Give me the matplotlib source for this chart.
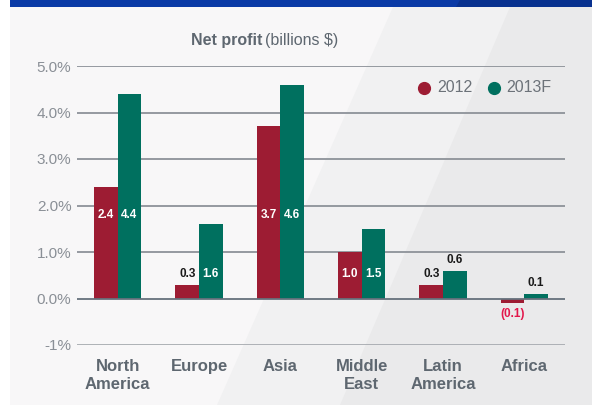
import matplotlib
matplotlib.use("Agg")
import matplotlib.pyplot as plt
from matplotlib.patches import Polygon, Rectangle
from matplotlib.lines import Line2D
import numpy as np

# ---- data ----
categories = ["North\nAmerica", "Europe", "Asia", "Middle\nEast", "Latin\nAmerica", "Africa"]
series_names = ["2012", "2013F"]
values_2012 = [2.4, 0.3, 3.7, 1.0, 0.3, -0.1]
values_2013 = [4.4, 1.6, 4.6, 1.5, 0.6, 0.1]
y_ticks = [5, 4, 3, 2, 1, 0, -1]
y_tick_labels = ["5.0%", "4.0%", "3.0%", "2.0%", "1.0%", "0.0%", "-1%"]

RED = "#9d1c33"
TEAL = "#00705f"
TXT = "#5e6770"
TICK = "#8a8f96"

plt.rcParams['font.family'] = ['Liberation Sans', 'DejaVu Sans']

W, H = 592, 405
fig = plt.figure(figsize=(W / 100, H / 100), dpi=100)
fig.patch.set_facecolor("white")

def px(x, y):
    return (x / W, 1 - y / H)

# background panel with diagonal stripes
fig.add_artist(Rectangle(px(10, 405), (W - 10) / W, 398 / H, transform=fig.transFigure,
                         facecolor="#f8f7f8", edgecolor="none", zorder=-10))
fig.add_artist(Polygon([px(393, 7), px(592, 7), px(592, 405), px(217, 405)], closed=True,
                       transform=fig.transFigure, facecolor="#f1f1f2", edgecolor="none", zorder=-9))
fig.add_artist(Polygon([px(510, 7), px(592, 7), px(592, 405), px(340, 405)], closed=True,
                       transform=fig.transFigure, facecolor="#eaeaeb", edgecolor="none", zorder=-8))
fig.add_artist(Rectangle(px(10, 7), (W - 10) / W, 7 / H, transform=fig.transFigure,
                         facecolor="#0a3aa6", edgecolor="none", zorder=-5))
fig.add_artist(Polygon([px(460, 0), px(592, 0), px(592, 7), px(456, 7)], closed=True,
                       transform=fig.transFigure, facecolor="#08318f", edgecolor="none", zorder=-4))

ax = fig.add_axes([77 / W, 60 / H, (565 - 77) / W, (345 - 66) / H])
ax.set_facecolor("none")
ax.set_xlim(-0.5, 5.5)
ax.set_ylim(-1, 5)
for s in ax.spines.values():
    s.set_visible(False)

# gridlines
for t in y_ticks:
    if t == 0:
        c, lw = "#66717c", 1.3
    elif t == -1:
        c, lw = "#a7abb0", 2.0
    else:
        c, lw = "#8d9299", 1.3
    ax.axhline(t, color=c, lw=lw, zorder=3 if t == 0 else 1)

x = np.arange(len(categories))
w = 0.29
ax.bar(x - w / 2, values_2012, w, color=RED, zorder=2)
ax.bar(x + w / 2, values_2013, w, color=TEAL, zorder=2)

ax.set_yticks(y_ticks)
ax.set_yticklabels(y_tick_labels, fontsize=11, color=TICK)
ax.set_xticks(x)
ax.set_xticklabels(categories, fontsize=12, fontweight="bold", color=TXT, linespacing=1.25)
ax.tick_params(axis="y", length=0, pad=4)
ax.tick_params(axis="x", length=0, pad=10)

# value labels
inside_y = [1.8, 0.53, 1.8, 0.53, None, None]
for i in range(len(categories)):
    for v, off in ((values_2012[i], -w / 2), (values_2013[i], w / 2)):
        txt = f"{v:.1f}" if v >= 0 else f"({abs(v):.1f})"
        xi = i + off
        if inside_y[i] is not None and v >= 1:
            ax.text(xi, inside_y[i], txt, ha="center", va="center", color="white",
                    fontsize=8.5, fontweight="bold", zorder=4)
        elif v >= 0:
            ax.annotate(txt, (xi, v), xytext=(0, 7.5), textcoords="offset points",
                        ha="center", va="center", color="#1a1a1a", fontsize=8.5,
                        fontweight="bold", zorder=4)
        else:
            ax.annotate(txt, (xi, v), xytext=(0, -7.5), textcoords="offset points",
                        ha="center", va="center", color="#e3174b", fontsize=8.5,
                        fontweight="bold", zorder=4)

# title
fig.canvas.draw()
r = fig.canvas.get_renderer()
t1 = fig.text(*px(191, 45), "Net profit", fontsize=11.5, fontweight="bold", color=TXT,
              ha="left", va="baseline")
bb = t1.get_window_extent(renderer=r)
fig.text(bb.x1 / W + 3 / W, 1 - 45 / H, "(billions $)", fontsize=11.5, color=TXT,
         ha="left", va="baseline")

# legend
for (cx, tx, name, col) in ((424, 437, series_names[0], RED), (494, 506, series_names[1], TEAL)):
    fig.add_artist(Line2D([cx / W], [1 - 88 / H], marker="o", markersize=8.5, color=col,
                          linestyle="none", transform=fig.transFigure))
    fig.text(tx / W, 1 - 88 / H, name, fontsize=11.5, color="#6c7279", ha="left", va="center")

fig.savefig("out.png", dpi=100, facecolor=fig.get_facecolor())
